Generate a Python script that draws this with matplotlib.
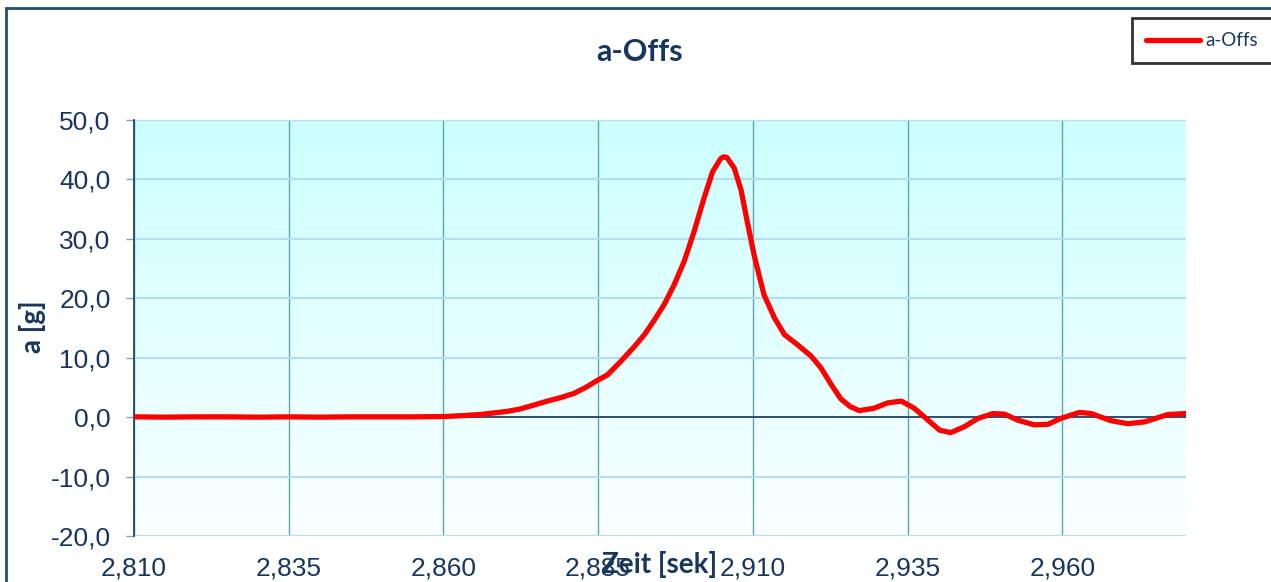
import numpy as np
import matplotlib.pyplot as plt
from matplotlib.patches import Rectangle

# Data
zeit = [2.810, 2.815, 2.820, 2.825, 2.830, 2.835, 2.840, 2.845, 2.850, 2.855,
        2.860, 2.863, 2.866, 2.8685, 2.8705, 2.8725, 2.8745, 2.8768, 2.879, 2.8811,
        2.883, 2.8849, 2.8865, 2.8885, 2.8908, 2.8925, 2.8940, 2.8957, 2.8973, 2.8989,
        2.9005, 2.9021, 2.9035, 2.9048, 2.9053, 2.9058, 2.9070, 2.9081, 2.9091, 2.9102,
        2.9118, 2.9135, 2.9151, 2.9172, 2.9194, 2.9210, 2.9226, 2.9242, 2.9257, 2.9272,
        2.9296, 2.9318, 2.9340, 2.9361, 2.9383, 2.9402, 2.9420, 2.9442, 2.9464, 2.9488,
        2.9507, 2.9528, 2.9555, 2.9577, 2.9598, 2.9628, 2.9647, 2.9679, 2.9706, 2.9733,
        2.9771, 2.9800]
a_offs = [0.05, 0.0, 0.05, 0.05, 0.0, 0.05, 0.0, 0.05, 0.05, 0.05,
          0.1, 0.25, 0.45, 0.75, 1.0, 1.4, 2.0, 2.7, 3.3, 4.0,
          5.0, 6.2, 7.1, 9.2, 11.8, 13.9, 16.2, 19.0, 22.3, 26.2,
          31.2, 36.8, 41.3, 43.5, 43.8, 43.7, 41.9, 38.2, 32.9, 27.3,
          20.6, 16.7, 13.9, 12.2, 10.3, 8.3, 5.6, 3.1, 1.8, 1.1,
          1.5, 2.4, 2.7, 1.5, -0.5, -2.2, -2.6, -1.6, -0.2, 0.6,
          0.5, -0.5, -1.3, -1.2, -0.2, 0.8, 0.6, -0.6, -1.1, -0.8,
          0.45, 0.6]

x_ticks = [2.810, 2.835, 2.860, 2.885, 2.910, 2.935, 2.960]
y_ticks = [-20, -10, 0, 10, 20, 30, 40, 50]

navy = "#17375E"

fig = plt.figure(figsize=(12.71, 5.82), dpi=100)
ax = fig.add_axes([134 / 1271, 1 - 536 / 582, (1186 - 134) / 1271, (536 - 120) / 582])

# gradient background (cyan top -> white bottom)
grad = np.linspace(0, 1, 256).reshape(-1, 1)
top = np.array([0.80, 1.0, 1.0])
bot = np.array([0.98, 1.0, 1.0])
img = top * (1 - grad)[..., None] + bot * grad[..., None]
ax.imshow(img.reshape(256, 1, 3), extent=[0, 1, 0, 1], transform=ax.transAxes,
          aspect="auto", zorder=0)

ax.set_xlim(2.810, 2.980)
ax.set_ylim(-20, 50)

for x in x_ticks:
    ax.axvline(x, color="#5AA8AE", lw=1.0, zorder=1)
for y in y_ticks:
    ax.axhline(y, color="#B4DCF4", lw=1.5, zorder=1)
ax.axhline(0, color=navy, lw=1.2, zorder=2)

ax.plot(zeit, a_offs, color="#FF0000", lw=3.8, label="a-Offs", zorder=3,
        solid_joinstyle="round", solid_capstyle="round")

ax.set_xticks(x_ticks)
ax.set_xticklabels([f"{v:.3f}".replace(".", ",") for v in x_ticks])
ax.set_yticks(y_ticks)
ax.set_yticklabels([f"{v:.1f}".replace(".", ",") for v in y_ticks])
ax.tick_params(axis="x", length=0, pad=15, labelsize=19, labelcolor=navy)
ax.tick_params(axis="y", length=5.8, width=1, color="#8EA0B4", pad=11,
               labelsize=19, labelcolor=navy)
for lab in ax.get_xticklabels() + ax.get_yticklabels():
    lab.set_fontfamily("Liberation Sans")

for s in ["top", "right", "bottom"]:
    ax.spines[s].set_visible(False)
ax.spines["left"].set_color(navy)
ax.spines["left"].set_linewidth(1.2)

fig.text(640 / 1271, 1 - 52 / 582, "a-Offs", ha="center", va="center",
         fontsize=22, fontweight="bold", color=navy, family="Lato")
fig.text(660 / 1271, 1 - 565 / 582, "Zeit [sek]", ha="center", va="center",
         fontsize=20, fontweight="bold", color=navy, family="Lato")
fig.text(32 / 1271, 1 - 327 / 582, "a [g]", ha="center", va="center",
         rotation=90, fontsize=20, fontweight="bold", color=navy, family="Lato")

# outer chart border
fig.patches.append(Rectangle((6 / 1271, -0.1), 1.1, 1 - 8 / 582 + 0.1,
                             transform=fig.transFigure, fill=False,
                             edgecolor="#1F4E79", lw=2))

leg = ax.legend(loc="upper left", bbox_to_anchor=(1132 / 1271, 1 - 18 / 582),
                bbox_transform=fig.transFigure, fancybox=False, frameon=True,
                edgecolor="black", handlelength=2.9, handletextpad=0.25,
                borderpad=0.75, borderaxespad=0,
                prop={"family": "Lato", "size": 13.5})
leg.get_frame().set_linewidth(2)
for t in leg.get_texts():
    t.set_color(navy)

fig.savefig("out.png", dpi=100)
